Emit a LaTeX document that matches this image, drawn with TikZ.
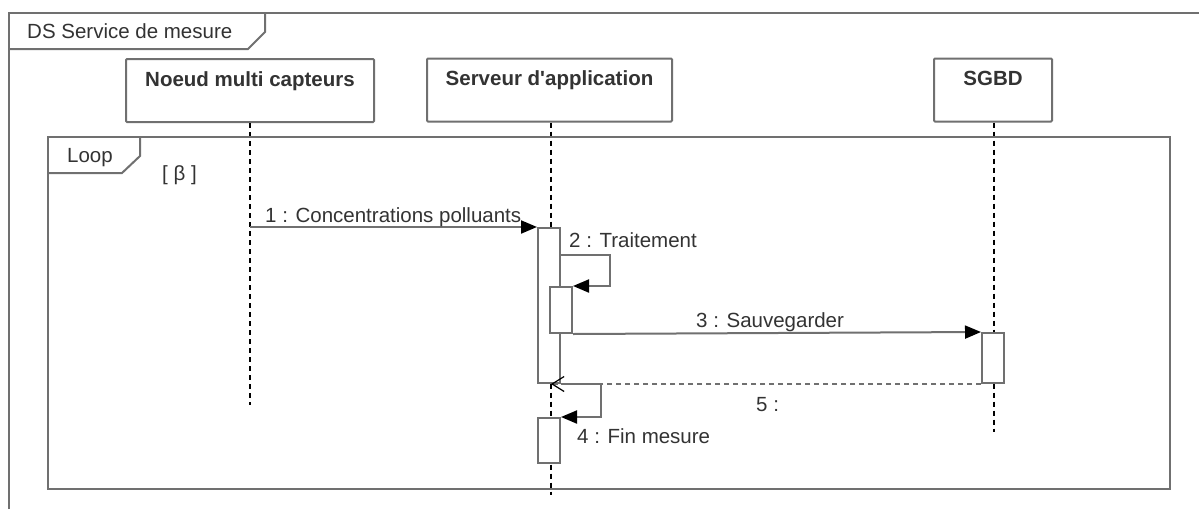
\documentclass[tikz,border=0pt]{standalone}
\usepackage{fontspec}
\setmainfont{Liberation Sans}[Ligatures=TeXOff]
\usetikzlibrary{arrows.meta,backgrounds}
\definecolor{linegray}{HTML}{707070}
\definecolor{txtgray}{HTML}{333333}
\definecolor{shadowgray}{HTML}{EDEDED}
\tikzset{
  frameline/.style={draw=linegray, line width=2pt, line join=miter},
  headbox/.style={draw=linegray, line width=2pt, fill=white, rounded corners=1pt,
    minimum height=63pt, inner ysep=0pt, text height=27pt, text depth=36pt,
    font=\fontsize{20.5}{24}\selectfont\bfseries, text=txtgray},
  lifeline/.style={draw=black, line width=1.5pt, dash pattern=on 5pt off 4pt},
  actbox/.style={draw=linegray, line width=2pt, fill=white, minimum width=22pt, inner sep=0pt},
  msgline/.style={draw=linegray, line width=2pt, -{Triangle[length=16pt,width=13pt,color=black]}},
  replyline/.style={draw=linegray, line width=2pt, dash pattern=on 5pt off 4pt,
    -{Straight Barb[length=12pt,width=15pt,color=black,line width=1.2pt]}},
  lbl/.style={anchor=base west, inner sep=0pt, font=\fontsize{20.5}{24}\selectfont, text=txtgray},
}
\begin{document}
\begin{tikzpicture}[x=1pt,y=-1pt]
\useasboundingbox (0,0) rectangle (1199,509);
\fill[white] (0,0) rectangle (1199,509);

% outer frame
\draw[frameline] (9,509) -- (9,13) -- (1201,13);
\draw[frameline] (9,49) -- (248,49) -- (265,32) -- (265,13);
\node[lbl] (dstitle) at (27,38) {DS Service de mesure};

% lifeline heads
\node[headbox, minimum width=248pt] (n1) at (250,90.5) {Noeud multi capteurs};
\node[headbox, minimum width=245pt] (n2) at (549.5,90) {Serveur d'application};
\node[headbox, minimum width=118pt] (n3) at (993,90) {SGBD};
\begin{scope}[on background layer]
  \foreach \n in {n1,n2,n3}{
    \fill[shadowgray] ([shift={(12,11)}]\n.north west) rectangle ([shift={(12,11)}]\n.south east);
  }
\end{scope}

% lifelines
\coordinate (e1) at (250,405);
\coordinate (e2) at (551,495);
\coordinate (e3) at (994,432);
\draw[lifeline] (n1.south) -- (e1);
\draw[lifeline] (n2.south -| e2) -- (e2);
\draw[lifeline] (n3.south -| e3) -- (e3);

% loop frame
\draw[frameline, fill=none] (48,137) rectangle (1170,489);
\draw[frameline] (48,173) -- (122,173) -- (140,156) -- (140,137);
\node[lbl] (looplbl) at (67,162) {Loop};
\node[lbl] (guard) at (162,180) {[ β ]};

% activations
\node[actbox, minimum height=155pt] (A1) at (549,305.5) {};
\node[actbox, minimum height=46pt] (A2) at (561,310) {};
\node[actbox, minimum height=45pt] (A3) at (549,440.5) {};
\node[actbox, minimum height=50pt] (B1) at (993,358) {};

% messages
\draw[msgline] (n1 |- A1.north west) -- (A1.north west);
\node[lbl] (m1) at (265,222) {1 : Concentrations polluants};

\draw[msgline] (A1.east |- 0,255) -- ++(49,0) |- (A2.north east);
\node[lbl] (m2) at (569,247) {2 : Traitement};

\draw[msgline] (A2.south east) -- (B1.north west);
\node[lbl] (m3) at (696,327) {3 : Sauvegarder};

\draw[replyline] (B1.south west) -- (e2 |- B1.south west);
\node[lbl] (m5) at (756,411) {5 :};

\draw[msgline] (A1.south east) -- ++(40,0) |- (A3.north east);
\node[lbl] (m4) at (577,443) {4 : Fin mesure};
\end{tikzpicture}
\end{document}
